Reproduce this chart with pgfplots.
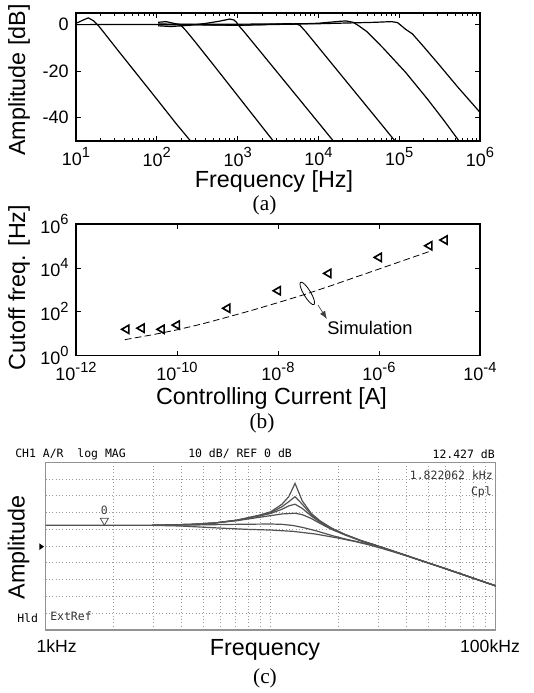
\documentclass[border=0pt]{standalone}
\usepackage{fontspec}
\setmainfont{Liberation Sans}
\newfontfamily\seriffont{Liberation Serif}
\newfontfamily\monofont{DejaVu Sans Mono}
\usepackage{pgfplots}
\pgfplotsset{compat=1.18}
\usetikzlibrary{shapes.geometric,arrows.meta}
\newcommand{\ex}[2]{#1\raisebox{0.45em}{\fontsize{11}{11}\selectfont #2}}
\newcommand{\lab}{\fontsize{17.5}{20}\selectfont}
\newcommand{\tkl}{\fontsize{13.5}{15}\selectfont}
\newcommand{\scr}{\monofont\fontsize{8.6}{10}\selectfont}
\begin{document}
\begin{tikzpicture}
\useasboundingbox (0,0) rectangle (399.75pt,-519.75pt);

% ---------------- panel (a)
\begin{axis}[
  at={(57pt,-105.75pt)}, anchor=south west,
  scale only axis, width=303pt, height=96pt,
  xmode=log, xmin=10, xmax=1e6, ymin=-50, ymax=5,
  xtick={10,100,1000,10000,100000,1000000},
  xticklabels={\ex{10}{1},\ex{10}{2},\ex{10}{3},\ex{10}{4},\ex{10}{5},\ex{10}{6}},
  ytick={-40,-20,0}, yticklabels={-40,-20,0},
  tick align=inside, xtick pos=both, ytick pos=both,
  major tick length=3.75pt, minor tick length=2pt,
  tick label style={font=\tkl},
  xticklabel style={yshift=-1.5pt}, yticklabel style={xshift=-2pt},
  axis line style={line width=0.8pt}, tick style={line width=0.6pt, black},
]
\addplot[black, line width=0.9pt] coordinates {(10,0.6) (10.7,1.0) (12.3,2.0) (14.2,2.9) (16.4,1.7) (18.9,-0.4) (22.4,-3.6) (31.6,-10.2) (56.2,-21.1) (100,-32.0) (177.8,-43.0) (262,-50)};
\addplot[black, line width=0.9pt] coordinates {(104,1.0) (130,1.3) (160,0.6) (185,0.1) (203,-0.6) (230,-2.6) (300,-7.5) (500,-17.2) (1000,-30.5) (2000,-43.8) (2767,-50)};
\addplot[black, line width=0.9pt] coordinates {(104,-0.5) (150,-0.8) (250,-0.3) (400,0.5) (600,1.5) (800,2.4) (900,2.0) (970,1.0) (1021,-0.2) (1200,-3.0) (1500,-7.1) (2000,-12.4) (5000,-29.3) (10000,-42.1) (15310,-50)};
\addplot[black, line width=0.9pt] coordinates {(104,0.3) (300,0.0) (1000,-0.3) (2000,0.0) (4000,0.4) (5300,0.3) (5916,-0.3) (7000,-3.1) (10000,-9.7) (20000,-22.5) (50000,-39.4) (88720,-50)};
\addplot[black, line width=0.9pt] coordinates {(104,0.0) (1000,-0.2) (5000,0.2) (10000,0.6) (18000,1.4) (22000,1.6) (27000,1.0) (31600,-0.5) (39800,-3.0) (63100,-10.0) (120000,-20.5) (224000,-32.0) (355000,-41.0) (550000,-50)};
\addplot[black, line width=0.9pt] coordinates {(10,0.0) (100,0.1) (1000,0.2) (10000,0.4) (50000,1.0) (80000,1.3) (95000,0.9) (105000,-0.3) (120000,-2.0) (146000,-4.0) (200000,-9.4) (306000,-16.9) (533000,-26.9) (1000000,-37.7)};
\end{axis}

% ---------------- panel (b)
\begin{axis}[
  at={(57pt,-266.8pt)}, anchor=south west,
  scale only axis, width=303pt, height=98.8pt,
  xmode=log, ymode=log, xmin=1e-12, xmax=1e-4, ymin=1, ymax=1e6,
  xtick={1e-12,1e-10,1e-8,1e-6,1e-4},
  xticklabels={\ex{10}{-12},\ex{10}{-10},\ex{10}{-8},\ex{10}{-6},\ex{10}{-4}},
  ytick={1,100,1e4,1e6},
  yticklabels={\ex{10}{0},\ex{10}{2},\ex{10}{4},\ex{10}{6}},
  xminorticks=false, yminorticks=false,
  tick align=inside, xtick pos=both, ytick pos=both,
  major tick length=3.75pt,
  tick label style={font=\tkl},
  xticklabel style={yshift=-1.5pt}, yticklabel style={xshift=-2pt},
  axis line style={line width=0.8pt}, tick style={line width=0.6pt, black},
]
\addplot[black, line width=0.6pt, dash pattern=on 5pt off 2.5pt] coordinates {(9.3e-12,5.4) (3.16e-11,8.9) (1e-10,15.1) (3.16e-10,28.2) (1e-9,57.5) (3.16e-9,120) (1e-8,263) (3.16e-8,589) (1e-7,1413) (3.16e-7,3548) (1e-6,8913) (3.16e-6,22390) (1e-5,56230)};
\addplot[only marks, mark=triangle, mark size=3.6pt, mark options={rotate=90, line width=1.2pt, black, fill=white}] coordinates {(1e-11,16) (2e-11,18) (5e-11,16) (1e-10,25) (1e-9,145) (1e-8,912) (1e-7,5620) (1e-6,30200) (1e-5,102000) (2e-5,186000)};
\node[draw, ellipse, minimum width=5.25pt, minimum height=19.5pt, inner sep=0pt, rotate=31, line width=0.6pt] at (axis cs:3.8e-8,690) {};
\draw[-{Latex[length=6pt,width=4.5pt]}, line width=0.5pt, black!75] (axis cs:6.2e-8,204) -- (axis cs:9.3e-8,47);
\end{axis}

% ---------------- panel (c)
\begin{axis}[
  at={(34.3pt,-472.5pt)}, anchor=south west,
  scale only axis, width=337.5pt, height=125.8pt,
  xmode=log, xmin=1000, xmax=100000, ymin=-50, ymax=50,
  xtick={10000},
  minor xtick={2000,3000,4000,5000,6000,7000,8000,9000,20000,30000,40000,50000,60000,70000,80000,90000},
  ytick={-40,-30,-20,-10,0,10,20,30,40},
  xticklabels={}, yticklabels={},
  major tick length=0pt, minor tick length=0pt,
  grid=both,
  major grid style={gray!80, line width=0.75pt, dash pattern=on 0.75pt off 1.75pt},
  minor grid style={gray!80, line width=0.75pt, dash pattern=on 0.75pt off 1.75pt},
  axis line style={gray!85, line width=1.1pt},
]
\addplot[black!68, line width=0.9pt] coordinates {(1000,12.4) (2979,12.4) (3981,12.0) (5012,11.3) (6310,10.6) (7943,10.0) (10000,9.6) (12589,8.8) (15849,7.2) (19953,4.8) (23988,2.6) (27606,0.6) (31623,-1.6) (39811,-5.6) (50119,-10.0) (63096,-14.5) (79433,-19.1) (100000,-23.7)};
\addplot[black!68, line width=0.9pt] coordinates {(2979,12.4) (4467,12.6) (7079,13.0) (10000,13.2) (11220,13.0) (12589,12.3) (13804,11.2) (15849,9.2) (18621,6.4) (21380,4.3) (25119,2.2) (27606,1.2) (31623,-1.0) (39811,-5.5) (50119,-10.0) (63096,-14.5) (79433,-19.1) (100000,-23.7)};
\addplot[black!68, line width=0.9pt] coordinates {(2979,12.4) (4467,13.0) (5623,13.8) (7079,15.2) (8913,17.2) (10000,18.2) (11220,19.2) (12823,19.6) (13804,18.8) (15136,16.5) (16596,13.5) (18621,10.0) (21380,6.7) (25119,3.2) (27606,1.6) (31623,-1.0) (39811,-5.5) (50119,-10.0) (63096,-14.5) (79433,-19.1) (100000,-23.7)};
\addplot[black!68, line width=0.9pt] coordinates {(2979,12.4) (3548,12.6) (4467,13.0) (5623,13.8) (7079,15.4) (8913,18.0) (10000,19.5) (11220,22.0) (12023,24.0) (12823,25.0) (13804,22.5) (15136,18.0) (16596,14.2) (18621,10.4) (21380,6.9) (25119,3.3) (27606,1.6) (31623,-1.0) (39811,-5.5) (50119,-10.0) (63096,-14.5) (79433,-19.1) (100000,-23.7)};
\addplot[black!68, line width=0.9pt] coordinates {(2979,12.4) (3548,12.6) (4467,13.0) (5623,13.8) (7079,15.5) (8913,18.3) (10000,20.0) (11220,23.5) (12023,26.5) (12823,29.5) (13804,25.0) (15136,18.8) (16596,14.6) (18621,10.6) (21380,6.9) (25119,3.3) (27606,1.6) (31623,-1.0) (39811,-5.5) (50119,-10.0) (63096,-14.5) (79433,-19.1) (100000,-23.7)};
\addplot[black!68, line width=0.9pt] coordinates {(2979,12.4) (3548,12.6) (4467,13.0) (5623,13.8) (7079,15.5) (8913,18.5) (10000,20.5) (11220,25.0) (12023,29.5) (12823,37.4) (13804,27.0) (15136,19.5) (16596,15.0) (18621,10.8) (21380,7.0) (25119,3.4) (27606,1.6) (31623,-1.0) (39811,-5.5) (50119,-10.0) (63096,-14.5) (79433,-19.1) (100000,-23.7)};
\addplot[only marks, mark=triangle, mark size=3.5pt, mark options={yshift=3.5pt, rotate=180, black!70, line width=0.6pt}] coordinates {(1822,12.427)};
\node[font=\scr, text=black!75, yshift=11.25pt] at (axis cs:1822,12.427) {0};
\end{axis}

% ---------------- texts
\node[rotate=90, font=\lab] at (14.25pt,-60pt) {Amplitude [dB]};
\node[font=\lab] at (205.5pt,-135.75pt) {Frequency [Hz]};
\node[font=\seriffont\fontsize{16}{18}\selectfont] at (198.4pt,-153.75pt) {(a)};

\node[rotate=90, font=\lab] at (14.25pt,-215.6pt) {Cutoff freq. [Hz]};
\node[font=\lab] at (203.6pt,-298.5pt) {Controlling Current [A]};
\node[font=\seriffont\fontsize{16}{18}\selectfont] at (196.5pt,-317.25pt) {(b)};
\node[anchor=west, font=\fontsize{13.7}{15}\selectfont, inner sep=0pt] at (245.25pt,-245.8pt) {Simulation};

\node[anchor=west, font=\scr, inner sep=0pt] at (11.25pt,-340.5pt) {CH1 A/R~~log MAG};
\node[anchor=west, font=\scr, inner sep=0pt] at (141pt,-340.5pt) {10 dB/ REF 0 dB};
\node[anchor=east, font=\scr, inner sep=0pt] at (371.25pt,-340.5pt) {12.427 dB};
\node[anchor=east, font=\scr, inner sep=0pt, text=black!80] at (369.75pt,-356.25pt) {1.822062 kHz};
\node[anchor=east, font=\scr, inner sep=0pt, text=black!80] at (369pt,-369pt) {Cpl};
\node[anchor=west, font=\scr, inner sep=0pt] at (12.75pt,-463.5pt) {Hld};
\node[anchor=west, font=\scr, inner sep=0pt, text=black!80] at (37.5pt,-462pt) {ExtRef};
\fill (29.5pt,-407.5pt) -- (33pt,-410pt) -- (29.5pt,-412.5pt) -- cycle;
\node[rotate=90, font=\lab] at (13.9pt,-410.6pt) {Amplitude};
\node[font=\fontsize{13.2}{15}\selectfont] at (42.5pt,-484.5pt) {1kHz};
\node[font=\lab] at (198.75pt,-487.5pt) {Frequency};
\node[font=\fontsize{13.2}{15}\selectfont] at (367.5pt,-484.5pt) {100kHz};
\node[font=\seriffont\fontsize{16}{18}\selectfont] at (198.75pt,-508.5pt) {(c)};
\end{tikzpicture}
\end{document}
